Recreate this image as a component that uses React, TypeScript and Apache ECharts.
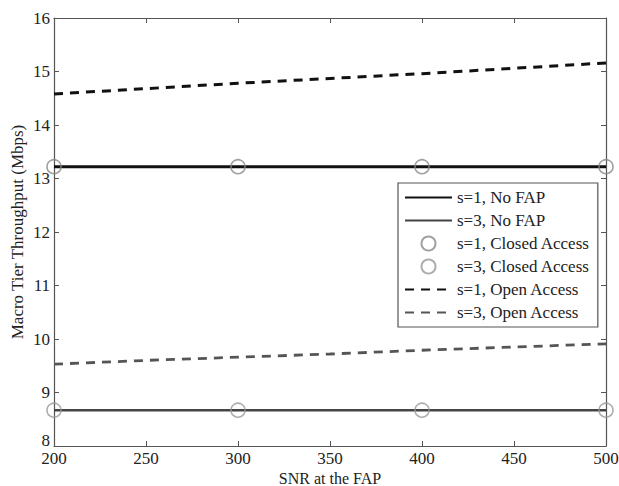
import React, { useEffect, useRef } from "react";
import * as echarts from "echarts";

const snr = [200, 250, 300, 350, 400, 450, 500];
const markerSnr = [200, 300, 400, 500];
const s1NoFap = [13.22, 13.22, 13.22, 13.22, 13.22, 13.22, 13.22];
const s3NoFap = [8.67, 8.67, 8.67, 8.67, 8.67, 8.67, 8.67];
const s1Closed = [13.22, 13.22, 13.22, 13.22];
const s3Closed = [8.67, 8.67, 8.67, 8.67];
const s1Open = [14.58, 14.68, 14.78, 14.87, 14.96, 15.06, 15.16];
const s3Open = [9.53, 9.6, 9.66, 9.72, 9.79, 9.85, 9.91];
const seriesNames = [
  "s=1, No FAP",
  "s=3, No FAP",
  "s=1, Closed Access",
  "s=3, Closed Access",
  "s=1, Open Access",
  "s=3, Open Access",
];

const FONT = "'Liberation Serif', 'Times New Roman', serif";

export default function App() {
  const ref = useRef<HTMLDivElement>(null);
  useEffect(() => {
    if (!ref.current) return;
    const chart = echarts.init(ref.current, undefined, { renderer: "svg" });
    const pair = (xs: number[], ys: number[]) => xs.map((x, i) => [x, ys[i]]);
    const axisLine = { show: true, lineStyle: { color: "#555", width: 1.2 } };
    const hideSym = { color: "rgba(0,0,0,0)", borderColor: "rgba(0,0,0,0)", borderWidth: 0 };
    chart.setOption({
      animation: false,
      backgroundColor: "#fff",
      grid: { left: 54, right: 13, top: 18, bottom: 40, show: false, outerBoundsMode: "none", containLabel: false },
      legend: {
        orient: "vertical",
        left: 398,
        top: 183,
        itemWidth: 47,
        itemHeight: 14,
        itemGap: 6,
        padding: [6, 8, 6, 6],
        backgroundColor: "#fff",
        borderColor: "#555",
        borderWidth: 1.2,
        textStyle: { fontFamily: FONT, fontSize: 17, color: "#222" },
        data: [
          { name: seriesNames[0], itemStyle: hideSym },
          { name: seriesNames[1], itemStyle: hideSym },
          { name: seriesNames[2] },
          { name: seriesNames[3] },
          { name: seriesNames[4], itemStyle: hideSym },
          { name: seriesNames[5], itemStyle: hideSym },
        ],
      },
      xAxis: [
        {
          type: "value",
          min: 200,
          max: 500,
          interval: 50,
          name: "SNR at the FAP",
          nameLocation: "middle",
          nameGap: 24,
          nameMoveOverlap: false,
          nameTextStyle: { fontFamily: FONT, fontSize: 16, lineHeight: 16, color: "#222", verticalAlign: "top" },
          axisLine,
          axisTick: { show: true, inside: true, length: 5, lineStyle: { color: "#555" } },
          axisLabel: { fontFamily: FONT, fontSize: 17, color: "#222", margin: 4 },
          splitLine: { show: false },
        },
        {
          type: "value",
          position: "top",
          min: 200,
          max: 500,
          interval: 50,
          axisLine,
          axisTick: { show: true, inside: true, length: 5, lineStyle: { color: "#555" } },
          axisLabel: { show: false },
          splitLine: { show: false },
        },
      ],
      yAxis: [
        {
          type: "value",
          min: 8,
          max: 16,
          interval: 1,
          name: "Macro Tier Throughput (Mbps)",
          nameLocation: "middle",
          nameGap: 28,
          nameMoveOverlap: false,
          nameTextStyle: { fontFamily: FONT, fontSize: 17, color: "#222" },
          axisLine,
          axisTick: { show: true, inside: true, length: 5, lineStyle: { color: "#555" } },
          axisLabel: {
            fontFamily: FONT,
            fontSize: 17,
            color: "#222",
            margin: 4,
            formatter: (v: number) => (v === 8 ? "{low|8}" : String(v)),
            rich: { low: { fontFamily: FONT, fontSize: 17, color: "#222", padding: [0, 0, 12, 0] } },
          },
          splitLine: { show: false },
        },
        {
          type: "value",
          position: "right",
          min: 8,
          max: 16,
          interval: 1,
          axisLine,
          axisTick: { show: true, inside: true, length: 5, lineStyle: { color: "#555" } },
          axisLabel: { show: false },
          splitLine: { show: false },
        },
      ],
      series: [
        {
          name: seriesNames[0],
          type: "line",
          symbol: "none",
          data: pair(snr, s1NoFap),
          lineStyle: { color: "#111", width: 3 },
          itemStyle: { color: "#111" },
          z: 3,
        },
        {
          name: seriesNames[1],
          type: "line",
          symbol: "none",
          data: pair(snr, s3NoFap),
          lineStyle: { color: "#444", width: 2.5 },
          itemStyle: { color: "#444" },
          z: 3,
        },
        {
          name: seriesNames[2],
          type: "scatter",
          symbol: "circle",
          symbolSize: 14,
          data: pair(markerSnr, s1Closed),
          itemStyle: { color: "rgba(0,0,0,0)", borderColor: "#888", borderWidth: 1.6 },
          z: 4,
        },
        {
          name: seriesNames[3],
          type: "scatter",
          symbol: "circle",
          symbolSize: 14,
          data: pair(markerSnr, s3Closed),
          itemStyle: { color: "rgba(0,0,0,0)", borderColor: "#999", borderWidth: 1.6 },
          z: 4,
        },
        {
          name: seriesNames[4],
          type: "line",
          symbol: "none",
          data: pair(snr, s1Open),
          lineStyle: { color: "#111", width: 3, type: [9, 7] },
          itemStyle: { color: "#111" },
          z: 3,
        },
        {
          name: seriesNames[5],
          type: "line",
          symbol: "none",
          data: pair(snr, s3Open),
          lineStyle: { color: "#555", width: 2.8, type: [9, 7] },
          itemStyle: { color: "#555" },
          z: 3,
        },
      ],
    });
    return () => chart.dispose();
  }, []);
  return <div ref={ref} style={{ width: 619, height: 486, position: "absolute", left: 0, top: 0 }} />;
}
